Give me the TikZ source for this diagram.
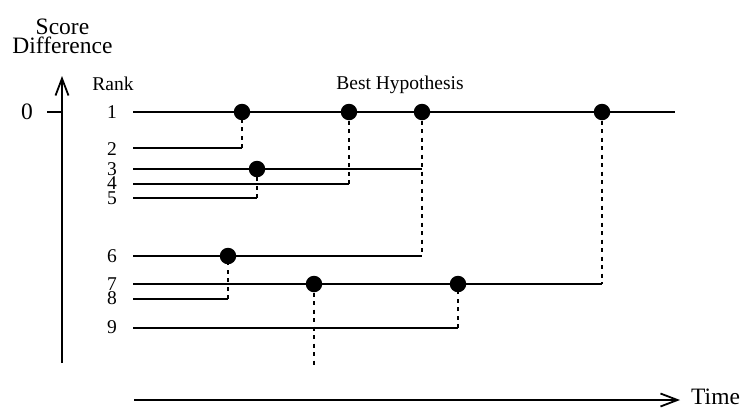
\documentclass[tikz,border=0pt]{standalone}
\usepackage{fontspec}
\setmainfont{Liberation Serif}
\usetikzlibrary{arrows.meta}
\begin{document}
\begin{tikzpicture}[x=1pt,y=-1pt,
  track/.style={line width=1.8pt},
  link/.style={line width=2pt,dash pattern=on 4pt off 4.5pt},
  axis/.style={line width=1.8pt},
  hit/.style={circle,fill=black,inner sep=0pt,minimum size=16.5pt},
  ranklabel/.style={font=\fontsize{19.5}{19.5}\selectfont,inner sep=0pt},
  axislabel/.style={font=\fontsize{23.5}{23.5}\selectfont,inner sep=0pt},
  barb/.style={-{Straight Barb[length=17pt,width=13pt,line width=1.8pt]}},
]
\useasboundingbox (0,0) rectangle (745,408);

% vertical axis with its zero tick
\coordinate (ybot) at (62,363);
\coordinate (ytop) at (62,76);
\draw[axis,barb] (ybot) -- (ytop);
\coordinate (tickL) at (47,112);
\coordinate (tickR) at (62,112);
\draw[axis] (tickL) -- (tickR);
\node[axislabel] (zero) at (27,112) {0};
\node[axislabel,anchor=base] (ylab1) at (62.5,34) {Score};
\node[axislabel,anchor=base] (ylab2) at (62.5,53) {Difference};

% time axis
\coordinate (tstart) at (134,400);
\coordinate (tend) at (680,400);
\draw[axis,barb] (tstart) -- (tend);
\node[axislabel,anchor=base west] (tlab) at (691,404) {Time};

% labels
\node[ranklabel] (rank) at (113,84) {Rank};
\node[ranklabel] (best) at (400,85) {Best Hypothesis};
\foreach \r/\y in {1/112,2/149,3/169,4/183,5/198,6/256,7/284,8/298,9/327}
  \node[ranklabel] (r\r) at (112,\y) {\r};

% track starts
\foreach \r/\y in {1/112,2/148,3/169,4/184,5/198,6/256,7/284,8/299,9/328}
  \coordinate (s\r) at (133,\y);

% track ends
\coordinate (e1) at (675,112);
\coordinate (e2) at (242,148);
\coordinate (e3) at (422,169);
\coordinate (e4) at (349,184);
\coordinate (e5) at (257,198);
\coordinate (e6) at (422,256);
\coordinate (e7) at (602,284);
\coordinate (e8) at (228,299);
\coordinate (e9) at (458,328);
\coordinate (e10) at (314,365);

% merge points
\coordinate (p1a) at (242,112);
\coordinate (p1b) at (349,112);
\coordinate (p1c) at (422,112);
\coordinate (p1d) at (602,112);
\coordinate (p3) at (257,169);
\coordinate (p6) at (228,256);
\coordinate (p7a) at (314,284);
\coordinate (p7b) at (458,284);

% tracks
\foreach \r in {1,...,9}
  \draw[track] (s\r) -- (e\r);

% back-pointers
\draw[link] (e2) -- (p1a);
\draw[link] (e4) -- (p1b);
\draw[link] (p1c) -- (e6);
\draw[link] (p1d) -- (e7);
\draw[link] (e5) -- (p3);
\draw[link] (e8) -- (p6);
\draw[link] (e9) -- (p7b);
\draw[link] (p7a) -- (e10);

% recombination dots
\foreach \p in {p1a,p1b,p1c,p1d,p3,p6,p7a,p7b}
  \node[hit] (n\p) at (\p) {};
\end{tikzpicture}
\end{document}
